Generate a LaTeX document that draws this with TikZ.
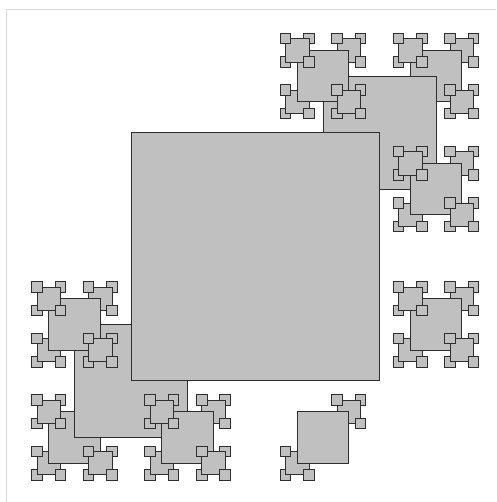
\documentclass[tikz,border=0pt]{standalone}
\usepackage{tikz}
\definecolor{sqfill}{HTML}{c0c0c0}
\definecolor{sqline}{HTML}{2e2e2e}
\definecolor{framegray}{HTML}{dadada}
\newcounter{sqcount}
\newcommand{\sqratio}{0.455}
\newcommand{\sqlimit}{203}
% one square and its four corner squares: centre x, centre y, half side, level
\newcommand{\cornersquare}[4]{%
  \begingroup
  \pgfmathsetmacro{\sh}{#3*\sqratio}%
  \pgfmathsetmacro{\xa}{#1-#3}\pgfmathsetmacro{\xb}{#1+#3}%
  \pgfmathsetmacro{\ya}{#2-#3}\pgfmathsetmacro{\yb}{#2+#3}%
  \edef\sqnext{\the\numexpr#4+1\relax}%
  % upper right and lower left go under the square
  \ifnum#4<4
    \edef\sqcall{\noexpand\cornersquare{\xb}{\ya}{\sh}{\sqnext}}\sqcall
    \edef\sqcall{\noexpand\cornersquare{\xa}{\yb}{\sh}{\sqnext}}\sqcall
  \fi
  \stepcounter{sqcount}%
  \ifnum\value{sqcount}>\sqlimit\relax\else
    \draw[sqbox] (\xa,\ya) rectangle (\xb,\yb);
  \fi
  % lower right and upper left go over it
  \ifnum#4<4
    \edef\sqcall{\noexpand\cornersquare{\xb}{\yb}{\sh}{\sqnext}}\sqcall
    \edef\sqcall{\noexpand\cornersquare{\xa}{\ya}{\sh}{\sqnext}}\sqcall
  \fi
  \endgroup
}

\begin{document}
\begin{tikzpicture}[x=1pt, y=-1pt,
    sqbox/.style={fill=sqfill, draw=sqline, line width=0.9pt}]
  \useasboundingbox (0,0) rectangle (496,502);
  % page frame
  \draw[framegray, line width=1.2pt] (6.5,502) -- (6.5,9.5) -- (496,9.5);
  % squares, drawn in order until the step limit
  \cornersquare{255.3}{256.7}{124.2}{0}
\end{tikzpicture}
\end{document}
